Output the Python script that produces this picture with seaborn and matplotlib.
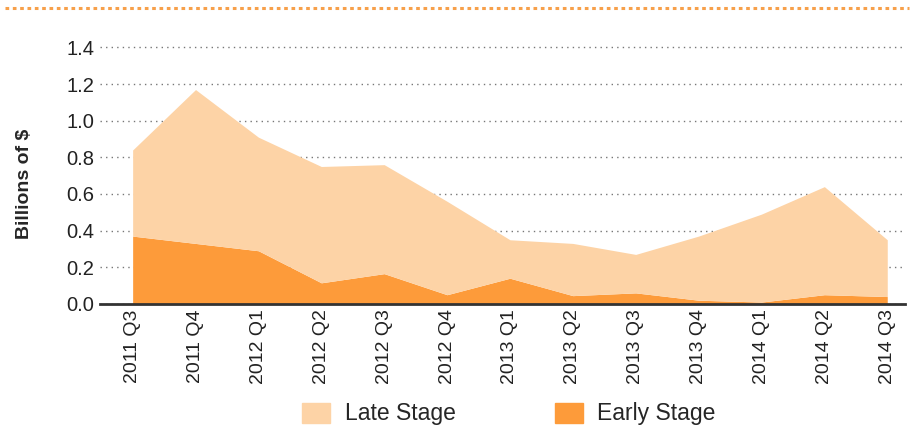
import numpy as np
import pandas as pd
import seaborn as sns
import matplotlib.pyplot as plt
from matplotlib.lines import Line2D
from matplotlib.patches import Patch

# values (billions of $)
quarters = ["2011 Q3", "2011 Q4", "2012 Q1", "2012 Q2", "2012 Q3", "2012 Q4", "2013 Q1",
            "2013 Q2", "2013 Q3", "2013 Q4", "2014 Q1", "2014 Q2", "2014 Q3"]
total = [0.84, 1.17, 0.91, 0.75, 0.76, 0.56, 0.35, 0.33, 0.27, 0.37, 0.49, 0.64, 0.35]
early = [0.37, 0.33, 0.29, 0.115, 0.165, 0.05, 0.14, 0.045, 0.06, 0.02, 0.01, 0.05, 0.04]
late = [t - e for t, e in zip(total, early)]

late_color = "#FDD3A6"
early_color = "#FD9B3A"

sns.set_style("white")
plt.rcParams['font.family'] = ['Liberation Sans', 'DejaVu Sans']

df = pd.DataFrame({"quarter": quarters, "early": early, "late": late})
x = np.arange(len(df))

fig = plt.figure(figsize=(9.14, 4.25), dpi=100)
ax = fig.add_axes([0.109, 0.285, 0.881, 0.625])

ax.stackplot(x, df["early"], df["late"], colors=[early_color, late_color],
             linewidth=0, zorder=2)

ax.set_xlim(-0.525, 12.28)
ax.set_ylim(0, 1.45)
ax.set_yticks(np.arange(0, 1.41, 0.2))
ax.set_yticklabels([f"{v:.1f}" for v in np.arange(0, 1.41, 0.2)], fontsize=14.5, color="#222222")
ax.set_xticks(x)
ax.set_xticklabels(df["quarter"], rotation=90, fontsize=14, color="#222222")
ax.tick_params(axis="both", length=0, pad=4)

ax.yaxis.grid(True, linestyle=(0, (1, 3)), color="#777777", linewidth=1, zorder=0)
ax.set_axisbelow(True)
sns.despine(ax=ax, left=True, top=True, right=True)
ax.spines["bottom"].set_color("#333333")
ax.spines["bottom"].set_linewidth(2)
ax.spines["bottom"].set_zorder(3)

ax.set_ylabel("Billions of $", fontsize=14, fontweight="bold")
ax.yaxis.set_label_coords(-0.083, 0.45)

handles = [Patch(color=late_color), Patch(color=early_color)]
fig.legend(handles, ["Late Stage", "Early Stage"], loc="center", ncol=2,
           bbox_to_anchor=(0.557, 0.026), frameon=False, fontsize=16.5,
           handlelength=1.22, handleheight=0.96, columnspacing=4.3, handletextpad=0.65)

# dotted orange rule at the top of the figure
fig.add_artist(Line2D([0.006, 0.995], [0.981, 0.981], transform=fig.transFigure,
                      color="#F7A04A", linewidth=2.2, linestyle=(0, (1.2, 1.2))))

fig.savefig("out.png", dpi=100)
